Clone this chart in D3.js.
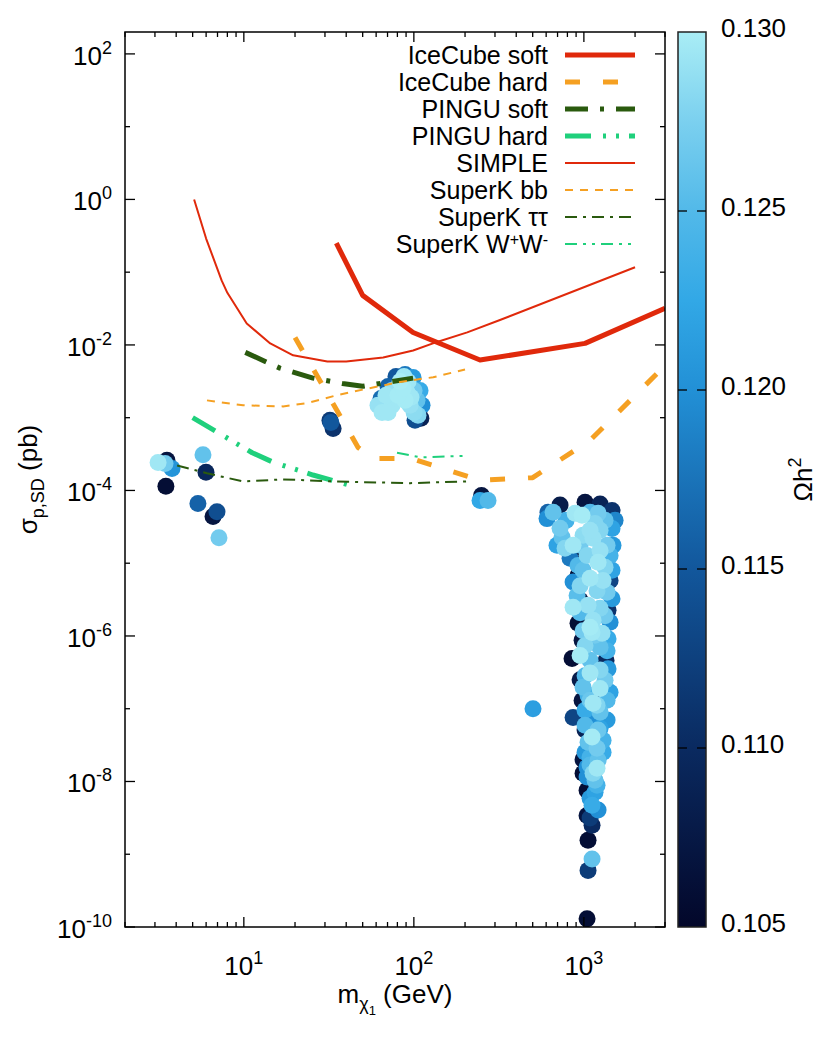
<!DOCTYPE html>
<html>
<head>
<meta charset="utf-8">
<script src="https://cdn.jsdelivr.net/npm/d3@7"></script>
<style>
body { margin: 0; background: #fff; }
text { font-family: "Liberation Sans", Arial, sans-serif; fill: #000; }
</style>
</head>
<body>
<script>
// limit curves, [mass GeV, sigma pb]
const iceCubeSoft = [[35, 0.25], [50, 0.048], [99, 0.0148], [245, 0.0062], [1016, 0.0105], [3000, 0.032]]
const iceCubeHard = [[20, 0.0127], [47, 3.9e-4], [57, 2.75e-4], [97, 2.75e-4], [245, 1.38e-4], [500, 1.5e-4], [1090, 4.9e-4], [3000, 5.2e-3]]
const pinguSoft = [[10.2, 7.9e-3], [16.3, 4.8e-3], [25.5, 3.5e-3], [38, 2.95e-3], [50, 2.7e-3], [99, 3.5e-3]]
const pinguHard = [[5.0, 1.0e-3], [11.2, 3.3e-4], [14.9, 2.44e-4], [25.5, 1.63e-4], [42, 1.18e-4]]
const simple = [[5.1, 1.0], [6, 0.29], [7.4, 0.077], [8, 0.052], [10.4, 0.0197], [14.3, 0.0105], [19.5, 0.0072], [31, 0.0059], [40, 0.0059], [66, 0.0067], [99, 0.0084], [137, 0.011], [206, 0.0149], [321, 0.022], [2000, 0.117]]
const superKbb = [[6.07, 1.73e-3], [9.9, 1.48e-3], [17, 1.43e-3], [23.5, 1.58e-3], [35.3, 2.04e-3], [53, 2.5e-3], [83, 3.1e-3], [130, 3.6e-3], [200, 4.6e-3]]
const superKtautau = [[4.05, 2.2e-4], [6.07, 1.72e-4], [9.9, 1.33e-4], [17, 1.42e-4], [33.5, 1.33e-4], [95, 1.26e-4], [206, 1.33e-4]]
const superKWW = [[79.6, 3.3e-4], [109, 2.85e-4], [206, 3.0e-4]]

const legendNames = ["IceCube soft", "IceCube hard", "PINGU soft", "PINGU hard", "SIMPLE", "SuperK bb", "SuperK ττ", "SuperK W+W-"]

// scan points, [mass GeV, sigma pb, omega h^2]
const lowMassPoints = [
  [3.53, 2.6e-4, 0.107], [3.78, 2.0e-4, 0.1205], [3.44, 2.35e-4, 0.127], [3.13, 2.43e-4, 0.1295],
  [3.48, 1.14e-4, 0.106], [5.75, 3.1e-4, 0.126], [5.99, 1.78e-4, 0.1095], [5.37, 6.6e-5, 0.116],
  [6.59, 4.4e-5, 0.107], [6.95, 5.1e-5, 0.114], [7.14, 2.24e-5, 0.127],
  [32.1, 9.2e-4, 0.112], [33.5, 7.1e-4, 0.111], [32.5, 8.6e-4, 0.115]
]
const blobPoints = [
  [64.1, 1.84e-3, 0.117], [70.5, 2.69e-3, 0.116], [78.5, 3.69e-3, 0.115], [88.8, 3.93e-3, 0.118],
  [98.9, 3.58e-3, 0.121], [108.7, 2.37e-3, 0.123], [111.7, 1.48e-3, 0.120], [110, 9.8e-4, 0.109],
  [101.6, 9.2e-4, 0.114],
  [65, 1.18e-3, 0.1295], [68.6, 1.62e-3, 0.129], [74.4, 2.37e-3, 0.129], [83, 3.14e-3, 0.13],
  [92.4, 3.14e-3, 0.1295], [100.3, 2.37e-3, 0.127], [104.4, 1.73e-3, 0.126], [100.3, 1.18e-3, 0.1285],
  [88.8, 1.73e-3, 0.1298], [80.7, 2.03e-3, 0.1298], [74.4, 1.48e-3, 0.1295], [70.5, 1.18e-3, 0.1295],
  [91.2, 2.23e-3, 0.1295], [95, 1.48e-3, 0.129],
  [68.6, 2.03e-3, 0.1295], [86.4, 2.53e-3, 0.1298], [96.2, 1.91e-3, 0.1295], [105.8, 1.08e-3, 0.128],
  [87.5, 3.69e-3, 0.1295], [61.5, 1.48e-3, 0.129]
]
const heavyPoints = [
  [250, 8.5e-5, 0.107], [245, 7.3e-5, 0.1225], [273, 7.3e-5, 0.125],
  [502, 1.0e-7, 0.1215],
  [724, 6.3e-5, 0.108], [1016, 6.9e-5, 0.107], [1245, 6.5e-5, 0.109], [1464, 5.3e-5, 0.111],
  [615, 5.0e-5, 0.116], [888, 1.5e-5, 0.108], [924, 6.8e-6, 0.106], [950, 3.1e-6, 0.107],
  [924, 1.5e-6, 0.106], [852, 4.9e-7, 0.106], [976, 8.7e-7, 0.107], [950, 2.5e-7, 0.108],
  [976, 1.3e-7, 0.107], [1016, 5.1e-8, 0.109], [989, 2.0e-8, 0.107], [989, 1.3e-8, 0.106],
  [1044, 7.6e-9, 0.106], [1044, 3.4e-9, 0.107], [1117, 2.5e-9, 0.110], [1058, 1.56e-9, 0.106],
  [1058, 6.0e-10, 0.112], [1044, 1.3e-10, 0.106], [1314, 1.3e-7, 0.112], [1350, 4.6e-7, 0.110],
  [1387, 2.25e-6, 0.111], [1426, 5.8e-6, 0.113], [864, 7.6e-8, 0.113],
  [607, 4.1e-5, 0.120], [1464, 3.0e-5, 0.122], [695, 1.76e-5, 0.122], [1484, 1.76e-5, 0.121],
  [829, 1.17e-5, 0.118], [864, 5.5e-6, 0.120], [1426, 1.54e-6, 0.120], [1426, 1.69e-7, 0.122],
  [1332, 7.0e-8, 0.119], [1117, 7.0e-8, 0.120], [1369, 7.0e-8, 0.121], [1044, 1.57e-8, 0.120],
  [1044, 1.15e-8, 0.120], [1163, 7.1e-9, 0.122], [1117, 4.7e-9, 0.123], [1087, 2.16e-8, 0.124],
  [1297, 3.7e-8, 0.124], [1163, 1.04e-8, 0.126],
  [659, 5.0e-5, 0.126], [744, 2.27e-5, 0.126], [989, 8.0e-6, 0.126], [912, 3.6e-6, 0.1255],
  [1212, 4.85e-5, 0.127], [1369, 1.76e-5, 0.127], [1369, 4.0e-6, 0.127], [1245, 7.0e-7, 0.126],
  [989, 1.98e-7, 0.126], [1195, 2.87e-8, 0.127], [1117, 8.6e-10, 0.126], [1163, 1.02e-6, 0.127],
  [1087, 1.31e-7, 0.1265], [1212, 5.1e-8, 0.1265], [1132, 1.3e-8, 0.128],
  [888, 4.85e-5, 0.1295], [976, 4.55e-5, 0.1298], [1163, 3.5e-5, 0.128], [989, 2.42e-5, 0.1285],
  [864, 1.76e-5, 0.1295], [1132, 2.2e-5, 0.129], [1044, 1.28e-5, 0.128], [1212, 1.03e-5, 0.1295],
  [1332, 8.8e-6, 0.128], [1087, 6.2e-6, 0.1295], [1297, 5.8e-6, 0.129], [1058, 2.64e-6, 0.129],
  [864, 2.48e-6, 0.1295], [1245, 2.4e-6, 0.128], [1132, 1.64e-6, 0.129], [1087, 1.32e-6, 0.1298],
  [1117, 1.12e-6, 0.1295], [1279, 1.09e-6, 0.129], [950, 5.4e-7, 0.1298], [1087, 3.1e-7, 0.1295],
  [1245, 3.4e-7, 0.128], [1245, 1.9e-7, 0.1295], [1195, 1.12e-7, 0.128], [1132, 1.19e-7, 0.1295],
  [1117, 4.1e-8, 0.1298], [1195, 1.52e-8, 0.1295],
  [786, 3.88e-5, 0.124], [1087, 5.0e-5, 0.125], [1332, 3.88e-5, 0.126], [1526, 3.88e-5, 0.119],
  [724, 3.02e-5, 0.127], [1245, 2.83e-5, 0.128], [1087, 2.83e-5, 0.129],
  [775, 1.6e-5, 0.128], [950, 1.76e-5, 0.127], [1245, 1.5e-5, 0.129], [1426, 1.28e-5, 0.124],
  [924, 9.3e-6, 0.125], [1464, 8.0e-6, 0.122], [950, 4.9e-6, 0.128], [1195, 4.18e-6, 0.128],
  [1464, 3.24e-6, 0.121], [950, 2.08e-6, 0.125], [1332, 1.89e-6, 0.127], [989, 1.18e-6, 0.127],
  [1387, 9.15e-7, 0.123], [1016, 7.33e-7, 0.128], [1369, 6.25e-7, 0.124], [1087, 4.63e-7, 0.126],
  [1387, 3.53e-7, 0.121], [1016, 2.83e-7, 0.125], [1332, 2.47e-7, 0.127], [1058, 1.53e-7, 0.124],
  [1369, 1.31e-7, 0.125], [1016, 9.55e-8, 0.123], [1245, 8.95e-8, 0.126], [1016, 5.93e-8, 0.125],
  [1245, 5.4e-8, 0.122], [1058, 3.47e-8, 0.126], [1297, 2.53e-8, 0.123], [1016, 2.53e-8, 0.121],
  [1087, 1.68e-8, 0.125], [1212, 1.96e-8, 0.126], [1195, 8.9e-9, 0.124], [1087, 5.9e-9, 0.121],
  [1212, 4.05e-9, 0.120], [1087, 3.14e-9, 0.112]
]

const xTickExp = [1, 2, 3]
const yTickExp = [2, 0, -2, -4, -6, -8, -10]
const cbTicks = [0.105, 0.110, 0.115, 0.120, 0.125, 0.130]

const W = 830, H = 1038
const box = { left: 125, right: 665, top: 32, bottom: 927 }
const cb = { left: 678, right: 706 }

const svg = d3.select("body").append("svg")
  .attr("width", W)
  .attr("height", H)

const x = d3.scaleLog().domain([2, 3000]).range([box.left, box.right])
const y = d3.scaleLog().domain([1e-10, 200]).range([box.bottom, box.top])
const cbScale = d3.scaleLinear().domain([0.105, 0.130]).range([box.bottom, box.top])

const palStops = [0.105, 0.110, 0.115, 0.120, 0.1225, 0.125, 0.1275, 0.130]
const palCols = ["#03072a", "#0a2a60", "#12579c", "#2290d6", "#32a8e6", "#52b9e9", "#7bd0ef", "#a9edf5"]
const color = d3.scaleLinear().domain(palStops).range(palCols)

svg.append("clipPath").attr("id", "clip")
  .append("rect")
  .attr("x", box.left).attr("y", box.top)
  .attr("width", box.right - box.left).attr("height", box.bottom - box.top)

const plot = svg.append("g").attr("clip-path", "url(#clip)")

// points, darkest first so the light ones sit on top
const allPoints = lowMassPoints.concat(blobPoints, heavyPoints)
  .slice().sort((a, b) => a[2] - b[2])

plot.selectAll("circle")
  .data(allPoints)
  .enter()
  .append("circle")
  .attr("cx", d => x(d[0]))
  .attr("cy", d => y(d[1]))
  .attr("r", 8.5)
  .style("fill", d => color(d[2]))

// curves
const red = "#e0290b", orange = "#f5a022", dkgreen = "#2a5a0e", green = "#1fd07c"
const series = [
  { data: iceCubeSoft, c: red, w: 5, dash: null },
  { data: iceCubeHard, c: orange, w: 5, dash: "15,23" },
  { data: pinguSoft, c: dkgreen, w: 5, dash: "23,12,4,12" },
  { data: pinguHard, c: green, w: 5, dash: "26,12,3,10,3,10" },
  { data: simple, c: red, w: 2, dash: null },
  { data: superKbb, c: orange, w: 2, dash: "8,7" },
  { data: superKtautau, c: dkgreen, w: 2, dash: "12,6,3,6" },
  { data: superKWW, c: green, w: 2, dash: "12,6,3,6,3,6" }
]

const line = d3.line()
  .x(d => x(d[0]))
  .y(d => y(d[1]))

series.forEach(s => {
  plot.append("path")
    .attr("d", line(s.data))
    .attr("fill", "none")
    .attr("stroke", s.c)
    .attr("stroke-width", s.w)
    .attr("stroke-dasharray", s.dash)
    .attr("stroke-linejoin", "round")
})

// ticks, inward on all four sides
const ticks = svg.append("g").attr("stroke", "#000").attr("stroke-width", 1.3)
const xTicks = []
for (let e = 0; e <= 3; e++) {
  for (let k = 1; k <= 9; k++) {
    const v = k * Math.pow(10, e)
    if (v >= 2 && v <= 3000) xTicks.push({ v: v, major: k == 1 })
  }
}
xTicks.forEach(t => {
  const len = t.major ? 10 : 5
  ticks.append("line").attr("x1", x(t.v)).attr("x2", x(t.v)).attr("y1", box.bottom).attr("y2", box.bottom - len)
  ticks.append("line").attr("x1", x(t.v)).attr("x2", x(t.v)).attr("y1", box.top).attr("y2", box.top + len)
})
for (let e = -10; e <= 2; e++) {
  const len = (e % 2 == 0) ? 10 : 5
  const yy = y(Math.pow(10, e))
  ticks.append("line").attr("x1", box.left).attr("x2", box.left + len).attr("y1", yy).attr("y2", yy)
  ticks.append("line").attr("x1", box.right).attr("x2", box.right - len).attr("y1", yy).attr("y2", yy)
}

svg.append("rect")
  .attr("x", box.left).attr("y", box.top)
  .attr("width", box.right - box.left).attr("height", box.bottom - box.top)
  .attr("fill", "none").attr("stroke", "#000").attr("stroke-width", 1.5)

// tick labels
xTickExp.forEach(e => {
  const t = svg.append("text")
    .attr("x", x(Math.pow(10, e)))
    .attr("y", 975)
    .attr("text-anchor", "middle")
    .style("font-size", "26px")
  t.append("tspan").text("10")
  t.append("tspan").attr("dy", -11).style("font-size", "18px").text(e)
})
yTickExp.forEach(e => {
  const t = svg.append("text")
    .attr("x", 112)
    .attr("y", y(Math.pow(10, e)) + 11)
    .attr("text-anchor", "end")
    .style("font-size", "26px")
  t.append("tspan").text("10")
  t.append("tspan").attr("dy", -11).style("font-size", "18px").text(e)
})

// axis titles
const xl = svg.append("text")
  .attr("x", (box.left + box.right) / 2)
  .attr("y", 1003)
  .attr("text-anchor", "middle")
  .style("font-size", "26px")
xl.append("tspan").text("m")
xl.append("tspan").attr("dy", 7).style("font-size", "18px").text("χ")
xl.append("tspan").attr("dy", 5).style("font-size", "13px").text("1")
xl.append("tspan").attr("dy", -12).text(" (GeV)")

const yl = svg.append("text")
  .attr("transform", "translate(37," + ((box.top + box.bottom) / 2) + ") rotate(-90)")
  .attr("text-anchor", "middle")
  .style("font-size", "26px")
yl.append("tspan").text("σ")
yl.append("tspan").attr("dy", 7).style("font-size", "18px").text("p,SD")
yl.append("tspan").attr("dy", -7).text(" (pb)")

// colour bar
const grad = svg.append("defs").append("linearGradient")
  .attr("id", "cbgrad")
  .attr("x1", 0).attr("x2", 0).attr("y1", 1).attr("y2", 0)
palStops.forEach((s, i) => {
  grad.append("stop")
    .attr("offset", (s - 0.105) / 0.025)
    .attr("stop-color", palCols[i])
})
svg.append("rect")
  .attr("x", cb.left).attr("y", box.top)
  .attr("width", cb.right - cb.left).attr("height", box.bottom - box.top)
  .attr("fill", "url(#cbgrad)")
  .attr("stroke", "#222").attr("stroke-width", 1.5)

cbTicks.forEach(v => {
  const yy = cbScale(v)
  if (v > 0.105 && v < 0.130) {
    svg.append("line").attr("x1", cb.left).attr("x2", cb.left + 9).attr("y1", yy).attr("y2", yy).attr("stroke", "#000").attr("stroke-width", 1.3)
    svg.append("line").attr("x1", cb.right).attr("x2", cb.right - 9).attr("y1", yy).attr("y2", yy).attr("stroke", "#000").attr("stroke-width", 1.3)
  }
  svg.append("text")
    .attr("x", 721)
    .attr("y", yy + 5)
    .style("font-size", "26px")
    .text(v.toFixed(3))
})

const cl = svg.append("text")
  .attr("transform", "translate(812," + ((box.top + box.bottom) / 2) + ") rotate(-90)")
  .attr("text-anchor", "middle")
  .style("font-size", "26px")
cl.append("tspan").text("Ωh")
cl.append("tspan").attr("dy", -11).style("font-size", "18px").text("2")

// legend
const legend = svg.append("g")
legendNames.forEach((name, i) => {
  const ly = 55 + i * 27
  const s = series[i]
  legend.append("line")
    .attr("x1", 565).attr("x2", 635)
    .attr("y1", ly).attr("y2", ly)
    .attr("stroke", s.c)
    .attr("stroke-width", s.w)
    .attr("stroke-dasharray", s.dash)
  const t = legend.append("text")
    .attr("x", 548)
    .attr("y", ly + 9)
    .attr("text-anchor", "end")
    .style("font-size", "25px")
  if (name == "SuperK W+W-") {
    t.append("tspan").text("SuperK W")
    t.append("tspan").attr("dy", -8).style("font-size", "16px").text("+")
    t.append("tspan").attr("dy", 8).text("W")
    t.append("tspan").attr("dy", -8).style("font-size", "16px").text("-")
  } else {
    t.text(name)
  }
})
</script>
</body>
</html>
